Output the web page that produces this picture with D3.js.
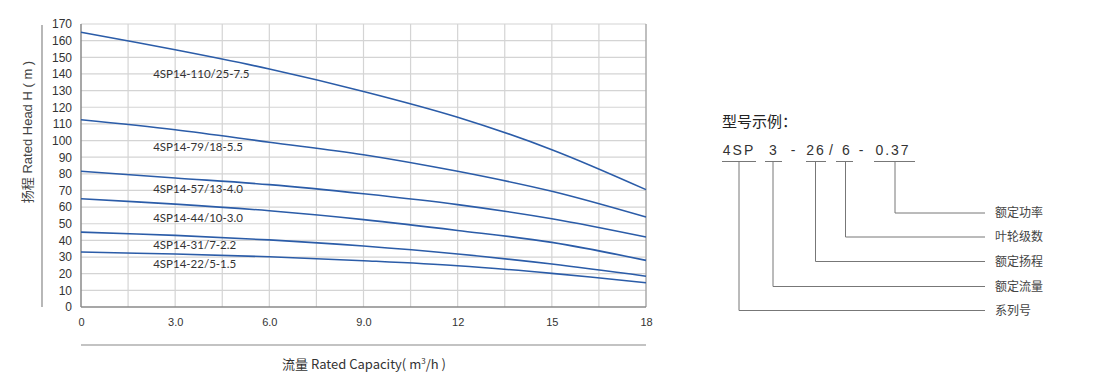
<!DOCTYPE html>
<html>
<head>
<meta charset="utf-8">
<script src="https://cdn.jsdelivr.net/npm/d3@7"></script>
<style>
  body { margin: 0; background: #fff; }
  svg { display: block; }
</style>
</head>
<body>
<div id="chart"></div>
<script>
// flow points (m3/h) and head values (m)
var flows = [0, 3, 6, 9, 12, 15, 18];
var models = ["4SP14-110/25-7.5", "4SP14-79/18-5.5", "4SP14-57/13-4.0",
              "4SP14-44/10-3.0", "4SP14-31/7-2.2", "4SP14-22/5-1.5"];
var head110 = [165, 154.5, 143, 129.5, 114, 94.5, 70.5];
var head79 = [112.5, 106.5, 99, 91.5, 81.5, 69.5, 54];
var head57 = [81.5, 77.5, 73.5, 68, 61.5, 53, 42];
var head44 = [65, 61.8, 57.8, 52.5, 46, 38.8, 28];
var head31 = [45, 43, 40.3, 36.6, 31.8, 25.8, 18.5];
var head22 = [33, 31.8, 30.2, 27.8, 24.8, 20.2, 14.6];
var labelHeads = [140, 96, 71, 53.5, 37.5, 26]; // where each model name sits

var xTicks = [0, 3, 6, 9, 12, 15, 18];
var xTickLabels = ["0", "3.0", "6.0", "9.0", "12", "15", "18"];
var yTicks = d3.range(0, 171, 10);

// model code example
var codeParts = ["4SP", "3", "-", "26", "/", "6", "-", "0.37"];
var codeMeaning = ["额定功率", "叶轮级数", "额定扬程", "额定流量", "系列号"];

var svgWidth = 1100;
var svgHeight = 390;

var svg = d3.select("#chart")
  .append("svg")
  .attr("width", svgWidth)
  .attr("height", svgHeight);

var x = d3.scaleLinear().domain([0, 18]).range([81, 646]);
var y = d3.scaleLinear().domain([0, 170]).range([307, 24]);

// grid
svg.append("g").selectAll("line")
  .data(d3.range(1.5, 18, 1.5))
  .enter().append("line")
  .attr("x1", d => x(d)).attr("x2", d => x(d))
  .attr("y1", y(170)).attr("y2", y(0))
  .attr("stroke", "#d4d4d4").attr("stroke-width", 1.2);

svg.append("g").selectAll("line")
  .data(d3.range(10, 171, 10))
  .enter().append("line")
  .attr("x1", x(0)).attr("x2", x(18))
  .attr("y1", d => y(d)).attr("y2", d => y(d))
  .attr("stroke", "#d4d4d4").attr("stroke-width", 1.2);

// frame
svg.append("line").attr("x1", x(18)).attr("x2", x(18)).attr("y1", y(170)).attr("y2", y(0))
  .attr("stroke", "#aaa").attr("stroke-width", 1.5);
svg.append("line").attr("x1", x(0)).attr("x2", x(0)).attr("y1", y(170)).attr("y2", y(0))
  .attr("stroke", "#8a8a8a").attr("stroke-width", 1.5);
svg.append("line").attr("x1", x(0)).attr("x2", x(18)).attr("y1", y(0)).attr("y2", y(0))
  .attr("stroke", "#8a8a8a").attr("stroke-width", 1.5);

// axes (labels only)
var leftAxis = d3.axisLeft(y).tickValues(yTicks).tickSize(0).tickPadding(9);
var yAxis = svg.append("g")
  .attr("transform", `translate(${x(0)},0)`)
  .call(leftAxis);
yAxis.select(".domain").remove();
yAxis.selectAll("text")
  .attr("font-family", "Liberation Sans, Arial, sans-serif")
  .attr("font-size", "12px")
  .attr("fill", "#333");

var bottomAxis = d3.axisBottom(x).tickValues(xTicks)
  .tickFormat((d, i) => xTickLabels[i]).tickSize(0).tickPadding(11);
var xAxis = svg.append("g")
  .attr("transform", `translate(0,${y(0)})`)
  .call(bottomAxis);
xAxis.select(".domain").remove();
xAxis.selectAll("text")
  .attr("font-family", "Liberation Sans Narrow, Liberation Sans, Arial, sans-serif")
  .attr("font-size", "11px")
  .attr("fill", "#333");

// axis titles
svg.append("line").attr("x1", 42).attr("x2", 42).attr("y1", 25).attr("y2", 307)
  .attr("stroke", "#888").attr("stroke-width", 1.2);
svg.append("text")
  .attr("transform", "translate(32,132) rotate(-90)")
  .attr("text-anchor", "middle")
  .attr("font-family", "Liberation Sans, Noto Sans CJK SC, sans-serif")
  .attr("font-size", "13px")
  .attr("fill", "#444")
  .text("扬程 Rated Head H ( m )");

svg.append("line").attr("x1", 81).attr("x2", 646).attr("y1", 345).attr("y2", 345)
  .attr("stroke", "#888").attr("stroke-width", 1.2);
var xt = svg.append("text")
  .attr("x", 364).attr("y", 369)
  .attr("text-anchor", "middle")
  .attr("font-family", "Liberation Sans Narrow, Noto Sans CJK SC, sans-serif")
  .attr("font-size", "13px")
  .attr("fill", "#333");
xt.append("tspan").text("流量 Rated Capacity( m");
xt.append("tspan").attr("dy", -5).attr("font-size", "8px").text("3");
xt.append("tspan").attr("dy", 5).text("/h )");

// curves
var series = [head110, head79, head57, head44, head31, head22];
var line = d3.line()
  .x((d, i) => x(flows[i]))
  .y(d => y(d))
  .curve(d3.curveCatmullRom);

svg.append("g").selectAll("path")
  .data(series)
  .enter().append("path")
  .attr("d", line)
  .attr("fill", "none")
  .attr("stroke", "#2b5ca8")
  .attr("stroke-width", 1.6);

svg.append("g").selectAll("text")
  .data(models)
  .enter().append("text")
  .attr("x", x(2.3))
  .attr("y", (d, i) => y(labelHeads[i]))
  .attr("dy", "0.35em")
  .attr("font-family", "Lato, Open Sans, sans-serif")
  .attr("font-size", "11.5px")
  .attr("fill", "#333")
  .text(d => d);

// model code example (right side)
svg.append("text")
  .attr("x", 722).attr("y", 127)
  .attr("font-family", "Noto Sans CJK SC, sans-serif")
  .attr("font-size", "15px")
  .attr("fill", "#222")
  .text("型号示例：");

var partX = [739, 774, 794, 816, 832, 847, 862, 893];
svg.append("g").selectAll("text")
  .data(codeParts)
  .enter().append("text")
  .attr("x", (d, i) => partX[i])
  .attr("y", 155)
  .attr("text-anchor", "middle")
  .attr("font-family", "Liberation Sans, Arial, sans-serif")
  .attr("font-size", "14px")
  .attr("letter-spacing", "2px")
  .attr("fill", "#333")
  .text(d => d);

// underline segments and leader lines: [x1, x2, leaderX, meaning row]
var underlines = [[722, 756, 739, 4], [765, 782, 773, 3], [806, 826, 815.5, 2], [836, 853, 845.5, 1], [874, 915, 895, 0]];
var rowY = [213, 237, 261.5, 286.5, 310.5];
var lead = svg.append("g").attr("stroke", "#777").attr("stroke-width", 1).attr("fill", "none");
underlines.forEach(function(u) {
  lead.append("line").attr("x1", u[0]).attr("x2", u[1]).attr("y1", 161.5).attr("y2", 161.5);
  lead.append("path").attr("d", `M${u[2]},161.5V${rowY[u[3]]}H985`);
});

svg.append("g").selectAll("text")
  .data(codeMeaning)
  .enter().append("text")
  .attr("x", 995)
  .attr("y", (d, i) => rowY[i])
  .attr("dy", "0.36em")
  .attr("font-family", "Noto Sans CJK SC, sans-serif")
  .attr("font-size", "12px")
  .attr("fill", "#444")
  .text(d => d);
</script>
</body>
</html>
